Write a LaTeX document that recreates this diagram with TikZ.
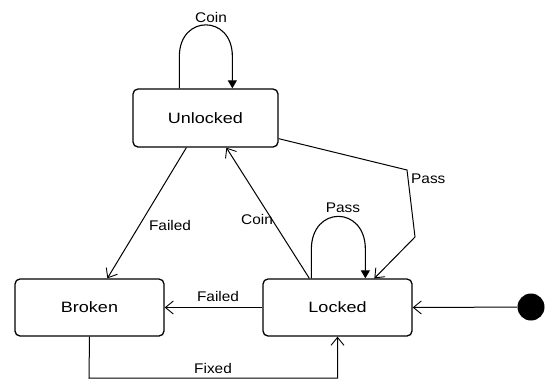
\documentclass[tikz,border=0pt]{standalone}
\usepackage{fontspec}
\setmainfont{Liberation Sans}
\newfontfamily\statefont[FakeStretch=1.2]{Liberation Sans}
\newfontfamily\lblfont[FakeStretch=1.1]{Liberation Sans}
\usetikzlibrary{arrows.meta}
\begin{document}
\begin{tikzpicture}[x=1pt,y=-1pt,
  state/.style={draw,line width=1.3pt,rounded corners=5pt,minimum width=145pt,minimum height=57pt,inner sep=0pt,font=\statefont\fontsize{15}{17}\selectfont},
  conn/.style={draw,line width=1pt,-{Straight Barb[length=8pt,width=13pt,line width=0.9pt]}},
  loopc/.style={draw,line width=1.1pt,-{Triangle[length=8pt,width=9pt]}},
  lbl/.style={font=\lblfont\fontsize{14}{16}\selectfont,inner sep=1pt}]
\useasboundingbox (0,0) rectangle (545,381);
\node[state,minimum width=145pt,minimum height=58pt] (U) at (205.5,118) {Unlocked};
\node[state,minimum width=149pt] (B) at (89.5,307.5) {Broken};
\node[state,minimum width=149pt] (L) at (337.5,307.5) {Locked};
\node[circle,fill=black,minimum size=27pt,inner sep=0pt] (I) at (531,307) {};
% Coin self loop
\draw[loopc] ([xshift=47pt]U.north west) -- ++(0,-32) .. controls +(0,-42) and +(0,-42) .. ([xshift=100pt,yshift=32pt]U.north west) -- ([xshift=100pt]U.north west);
\node[lbl] (c1) at (211,17) {Coin};
% Pass self loop
\draw[loopc] ([xshift=49pt]L.north west) -- ++(0,-29) .. controls +(0,-44) and +(0,-44) .. ([xshift=103pt,yshift=29pt]L.north west) -- ([xshift=103pt]L.north west);
\node[lbl] (p1) at (343,208) {Pass};
% Pass U -> L
\coordinate (pa) at (407,170);
\coordinate (pb) at (415,237);
\draw[conn] ([yshift=9pt]U.south east) -- (pa) -- (pb) -- ([xshift=112pt]L.north west);
\node[lbl,anchor=west] (p2) at (410,179) {Pass};
% Coin L -> U
\draw[conn] ([xshift=47pt]L.north west) -- ([xshift=94pt]U.south west);
\node[lbl] (c2) at (257,219) {Coin};
% Failed U -> B
\draw[conn] ([xshift=54pt]U.south west) -- ([xshift=93pt]B.north west);
\node[lbl] (f1) at (170,225) {Failed};
% Failed L -> B
\draw[conn] (L.west) -- (B.east);
\node[lbl] (f2) at (218,296) {Failed};
% Fixed B -> L
\coordinate (fx) at (89,378);
\draw[conn] (B.south) -- (fx) -| (L.south);
\node[lbl] (fx1) at (213,368) {Fixed};
% initial
\draw[conn] (I) -- (L.east);
\end{tikzpicture}
\end{document}
